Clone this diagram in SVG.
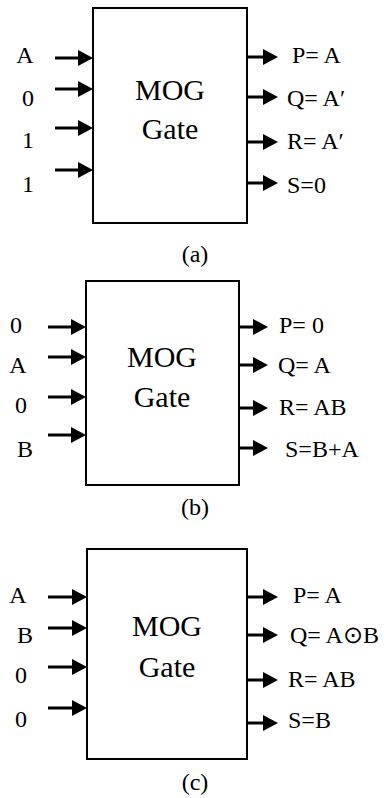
<svg xmlns="http://www.w3.org/2000/svg" width="392" height="798" viewBox="0 0 392 798">
<defs>
<marker id="ah" markerUnits="userSpaceOnUse" markerWidth="15" markerHeight="16" viewBox="0 0 15 16" refX="0" refY="8" orient="auto">
<path d="M0,0 L15,8 L0,16 Z" fill="#000"/>
</marker>
</defs>
<rect width="392" height="798" fill="#fff"/>
<g id="gateA">
<rect x="93" y="8" width="154" height="215" fill="#fff" stroke="#000" stroke-width="2"/>
<text font-family="Liberation Serif, serif" font-size="30" text-anchor="middle" x="170" y="100">MOG</text>
<text font-family="Liberation Serif, serif" font-size="30" text-anchor="middle" x="170" y="139">Gate</text>
</g>
<g id="inputsA">
<text font-family="Liberation Serif, serif" font-size="24" text-anchor="middle" x="25" y="63">A</text>
<text font-family="Liberation Serif, serif" font-size="24" text-anchor="middle" x="28" y="106">0</text>
<text font-family="Liberation Serif, serif" font-size="24" text-anchor="middle" x="28" y="148">1</text>
<text font-family="Liberation Serif, serif" font-size="24" text-anchor="middle" x="28" y="192">1</text>
</g>
<g id="outputsA">
<text font-family="Liberation Serif, serif" font-size="24" x="292" y="63">P= A</text>
<text font-family="Liberation Serif, serif" font-size="24" x="287" y="106">Q= A′</text>
<text font-family="Liberation Serif, serif" font-size="24" x="287" y="149">R= A′</text>
<text font-family="Liberation Serif, serif" font-size="24" x="287" y="193">S=0</text>
</g>
<text id="capA" font-family="Liberation Serif, serif" font-size="24" text-anchor="middle" x="195" y="262">(a)</text>

<g id="gateB">
<rect x="86" y="281" width="153" height="204" fill="#fff" stroke="#000" stroke-width="2"/>
<text font-family="Liberation Serif, serif" font-size="30" text-anchor="middle" x="162" y="367">MOG</text>
<text font-family="Liberation Serif, serif" font-size="30" text-anchor="middle" x="162" y="407">Gate</text>
</g>
<g id="inputsB">
<text font-family="Liberation Serif, serif" font-size="24" text-anchor="middle" x="16" y="333">0</text>
<text font-family="Liberation Serif, serif" font-size="24" text-anchor="middle" x="18" y="373">A</text>
<text font-family="Liberation Serif, serif" font-size="24" text-anchor="middle" x="21" y="413">0</text>
<text font-family="Liberation Serif, serif" font-size="24" text-anchor="middle" x="25" y="457">B</text>
</g>
<g id="outputsB">
<text font-family="Liberation Serif, serif" font-size="24" x="279" y="333">P= 0</text>
<text font-family="Liberation Serif, serif" font-size="24" x="278" y="373">Q= A</text>
<text font-family="Liberation Serif, serif" font-size="24" x="279" y="415">R= AB</text>
<text font-family="Liberation Serif, serif" font-size="24" x="285" y="457">S=B+A</text>
</g>
<text id="capB" font-family="Liberation Serif, serif" font-size="24" text-anchor="middle" x="195" y="515">(b)</text>

<g id="gateC">
<rect x="87" y="549" width="160" height="210" fill="#fff" stroke="#000" stroke-width="2"/>
<text font-family="Liberation Serif, serif" font-size="30" text-anchor="middle" x="167" y="636">MOG</text>
<text font-family="Liberation Serif, serif" font-size="30" text-anchor="middle" x="167" y="677">Gate</text>
</g>
<g id="inputsC">
<text font-family="Liberation Serif, serif" font-size="24" text-anchor="middle" x="18" y="603">A</text>
<text font-family="Liberation Serif, serif" font-size="24" text-anchor="middle" x="25" y="643">B</text>
<text font-family="Liberation Serif, serif" font-size="24" text-anchor="middle" x="21" y="683">0</text>
<text font-family="Liberation Serif, serif" font-size="24" text-anchor="middle" x="21" y="727">0</text>
</g>
<g id="outputsC">
<text font-family="Liberation Serif, serif" font-size="24" x="293" y="603">P= A</text>
<text font-family="Liberation Serif, serif" font-size="24" x="290" y="643">Q= A⊙B</text>
<text font-family="Liberation Serif, serif" font-size="24" x="288" y="687">R= AB</text>
<text font-family="Liberation Serif, serif" font-size="24" x="288" y="728">S=B</text>
</g>
<text id="capC" font-family="Liberation Serif, serif" font-size="24" text-anchor="middle" x="195" y="790">(c)</text>

<g id="connectors" fill="none" stroke="#000" stroke-width="3" marker-end="url(#ah)">
<path d="M55,58 H78"/>
<path d="M55,89 H78"/>
<path d="M55,128 H78"/>
<path d="M55,170 H78"/>
<path d="M247,57 H263"/>
<path d="M247,97 H263"/>
<path d="M247,142 H263"/>
<path d="M247,183 H263"/>
<path d="M48,327 H71"/>
<path d="M48,357 H71"/>
<path d="M48,397 H71"/>
<path d="M48,435 H71"/>
<path d="M239,327 H253"/>
<path d="M239,365 H253"/>
<path d="M239,408 H253"/>
<path d="M239,448 H253"/>
<path d="M48,597 H72"/>
<path d="M48,628 H72"/>
<path d="M48,667 H72"/>
<path d="M48,708 H72"/>
<path d="M247,597 H263"/>
<path d="M247,635 H263"/>
<path d="M247,680 H263"/>
<path d="M247,723 H263"/>
</g>
</svg>
